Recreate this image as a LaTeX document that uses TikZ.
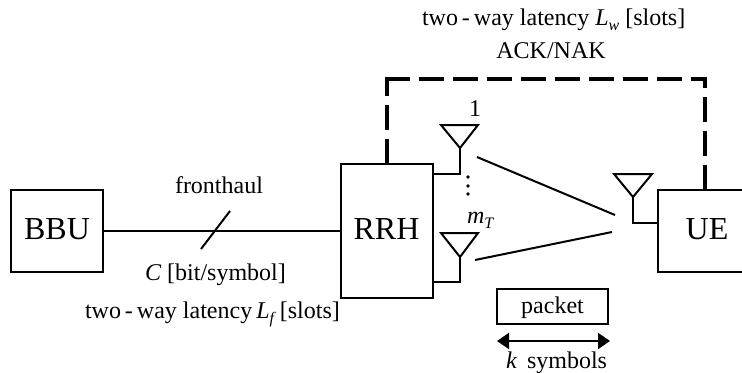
\documentclass[tikz,border=0pt]{standalone}
\usepackage{fontspec}
\setmainfont{Liberation Serif}
\usetikzlibrary{arrows.meta}
\newcommand{\lowsub}[1]{\raisebox{-0.22em}{\fontsize{16bp}{16bp}\selectfont\textit{#1}}}
\tikzset{
  x=1bp,y=-1bp,
  box/.style={draw,line width=2bp,outer sep=0pt,inner sep=0pt,font=\fontsize{32bp}{34bp}\selectfont,text height=21bp,text depth=5bp},
  pkt/.style={draw,line width=2bp,outer sep=0pt,inner sep=0pt,font=\fontsize{24bp}{26bp}\selectfont,text height=15bp,text depth=2bp,minimum width=111bp,minimum height=35bp},
  lbl/.style={inner sep=0pt,outer sep=0pt,font=\fontsize{24bp}{26bp}\selectfont},
  wire/.style={line width=2bp},
  thin wire/.style={line width=1.5bp},
  feedback/.style={line width=4bp,dash pattern=on 25bp off 9bp},
  antenna/.style={draw,line width=2bp,line join=miter},
  span/.style={line width=2bp,{Triangle[length=12bp,width=16bp]}-{Triangle[length=12bp,width=16bp]}}
}
\begin{document}
\begin{tikzpicture}
\useasboundingbox (0,0) rectangle (742,372);
% boxes
\node[box,minimum width=92bp,minimum height=82bp] (bbu) at (57,231) {BBU};
\node[box,minimum width=92bp,minimum height=134bp] (rrh) at (386.5,231) {RRH};
\node[box,minimum width=98bp,minimum height=82bp] (ue) at (707,231) {UE};
\node[pkt] (packet) at (552.5,306.5) {packet};
% fronthaul
\draw[thin wire] (bbu) -- (rrh);
\coordinate (slashA) at (201,249);
\coordinate (slashB) at (230,211);
\draw[wire] (slashA) -- (slashB);
% feedback
\coordinate (fbstart) at (384.5,79);
\coordinate (fbend) at (707,79);
\coordinate (fbright) at (705,77);
\coordinate (fbueup) at (705,190);
\draw[feedback] (rrh.north) -- (rrh.north |- fbstart);
\draw[feedback] (fbstart) -- (fbend);
\draw[feedback] (fbueup) -- (fbright);
% antennas
\coordinate (a1) at (460,148);
\coordinate (a1l) at (441,125);
\coordinate (a1r) at (478,125);
\coordinate (a1s) at (460,174);
\coordinate (a2) at (460,257);
\coordinate (a2l) at (441,233);
\coordinate (a2r) at (478,233);
\coordinate (a2s) at (460,282);
\coordinate (a3) at (633,197);
\coordinate (a3l) at (614,174);
\coordinate (a3r) at (652,174);
\coordinate (a3s) at (633,223);
\draw[antenna] (a1l) -- (a1r) -- (a1) -- cycle;
\draw[antenna] (a2l) -- (a2r) -- (a2) -- cycle;
\draw[antenna] (a3l) -- (a3r) -- (a3) -- cycle;
\draw[wire] (a1) -- (a1s) -- (rrh.east |- a1s);
\draw[wire] (a2) -- (a2s) -- (rrh.east |- a2s);
\draw[wire] (a3) -- (a3s) -- (ue.west |- a3s);
% radio links
\coordinate (l1a) at (477,157);
\coordinate (l1b) at (615,215);
\coordinate (l2a) at (475,260);
\coordinate (l2b) at (612,232);
\draw[wire] (l1a) -- (l1b);
\draw[wire] (l2a) -- (l2b);
% dots
\fill (468,177) circle (1.9bp) (468,186) circle (1.9bp) (468,194) circle (1.9bp);
% packet span
\coordinate (spanL) at (497,341);
\coordinate (spanR) at (610,341);
\draw[span] (spanL) -- (spanR);
% labels
\node[lbl,anchor=base] (fh) at (219,193) {fronthaul};
\node[lbl,anchor=base west] (cap) at (145,280) {\textit{C} [bit/symbol]};
\node[lbl,anchor=base west] (lf) at (85,318) {two\,-\,way latency\,\textit{L}\lowsub{f}\,[slots]};
\node[lbl,anchor=base west] (lw) at (422,25) {two\,-\,way latency \textit{L}\lowsub{w} [slots]};
\node[lbl,anchor=base] (ack) at (551,58) {ACK/NAK};
\node[lbl,anchor=base] (one) at (475,116) {1};
\node[lbl,anchor=base west] (mt) at (467,223) {\textit{m}\lowsub{T}};
\node[lbl,anchor=base west] (ksym) at (506,368) {\textit{k}\, symbols};
\end{tikzpicture}
\end{document}
